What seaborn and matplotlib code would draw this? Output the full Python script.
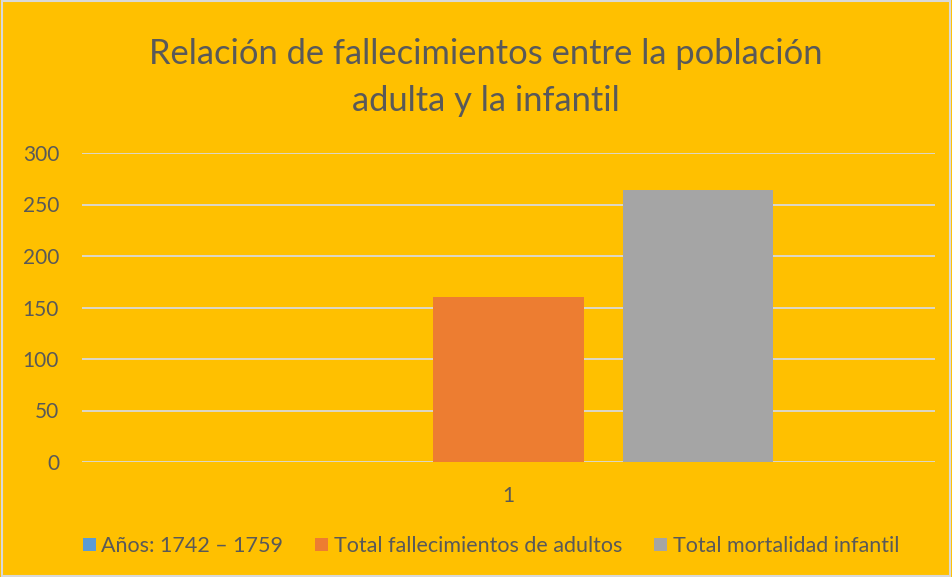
import matplotlib
matplotlib.use("Agg")
import matplotlib.pyplot as plt
import seaborn as sns
import pandas as pd
from matplotlib.patches import Rectangle

categories = ["1", "1", "1"]
series = ["Años: 1742 – 1759", "Total fallecimientos de adultos", "Total mortalidad infantil"]
values = [0, 160, 264]
colors = ["#5B9BD5", "#ED7D31", "#A5A5A5"]
yticks = [0, 50, 100, 150, 200, 250, 300]

sns.set_theme(style="white")
plt.rcParams["font.family"] = ["Lato", "DejaVu Sans"]

bg = "#FFC000"
txt = "#595959"

df = pd.DataFrame({"cat": categories, "serie": series, "valor": values})

fig = plt.figure(figsize=(9.52, 5.77), dpi=100, facecolor=bg)
ax = fig.add_axes([82/952, (577-462)/577, 853/952, 309/577])
ax.set_facecolor(bg)

sns.barplot(data=df, x="cat", y="valor", hue="serie", hue_order=series,
            palette=colors, width=0.668, gap=0.21, ax=ax, legend=True,
            saturation=1, edgecolor="none")

ax.set_ylim(0, 300)
ax.set_xlim(-0.5, 0.5)
ax.set_yticks(yticks)
ax.yaxis.grid(True, color="#D9D9D9", linewidth=1.3)
ax.set_axisbelow(True)
for s in ax.spines.values():
    s.set_visible(False)
ax.tick_params(axis="both", length=0, colors=txt, labelsize=15)
ax.tick_params(axis="y", pad=16.5)
ax.tick_params(axis="x", pad=17)
ax.set_xlabel("")
ax.set_ylabel("")

handles, labels = ax.get_legend_handles_labels()
ax.get_legend().remove()
leg = fig.legend(handles, labels, loc="center", bbox_to_anchor=(491/952, 1 - 546/577),
                 ncol=3, frameon=False, fontsize=15.5, handlelength=0.6, handleheight=0.6,
                 handletextpad=0.25, columnspacing=1.5, labelcolor=txt)

fig.text(486/952, 1 - 54/577, "Relación de fallecimientos entre la población", ha="center",
         va="center", fontsize=24.8, color=txt)
fig.text(486/952, 1 - 101/577, "adulta y la infantil", ha="center", va="center",
         fontsize=24.8, color=txt)

fig.patches.append(Rectangle((0.002, 0.002), 0.996, 0.996, transform=fig.transFigure,
                             fill=False, edgecolor="#D9D9D9", linewidth=1.5))

fig.savefig("out.png", dpi=100, facecolor=bg)
